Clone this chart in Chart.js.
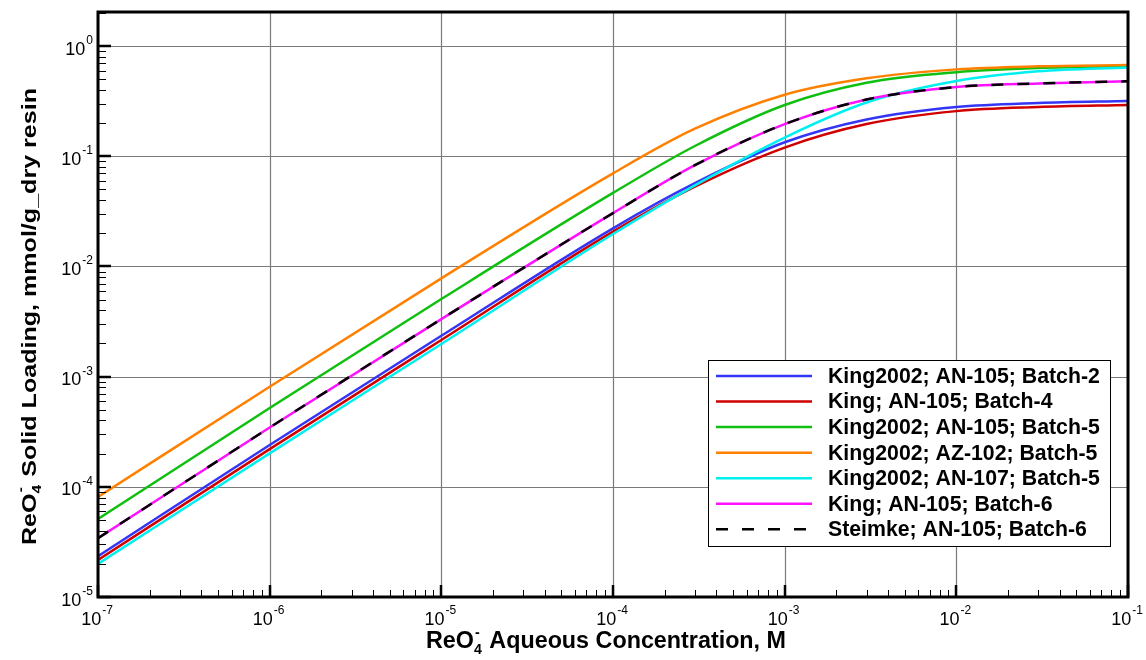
<!DOCTYPE html>
<html>
<head>
<meta charset="utf-8">
<script src="https://cdn.jsdelivr.net/npm/chart.js@4.4.0/dist/chart.umd.min.js"></script>
<style>
  html, body { margin: 0; padding: 0; background: #fff; }
</style>
</head>
<body>
<canvas id="isotherm" width="1146" height="660"></canvas>
<script>
// aqueous ReO4- concentration, M
const conc = [1e-7, 1e-6, 1e-5, 1e-4, 3e-4, 1e-3, 3e-3, 1e-2, 3e-2, 1e-1];

// solid loading, mmol/g dry resin
const king2002An105B2 = [2.35e-5, 2.4e-4, 2.35e-3, 0.0222, 0.057, 0.134, 0.216, 0.280, 0.305, 0.318];
const kingAn105B4     = [2.17e-5, 2.2e-4, 2.15e-3, 0.0207, 0.053, 0.120, 0.196, 0.257, 0.280, 0.292];
const king2002An105B5 = [5.1e-5, 5.2e-4, 5.06e-3, 0.0465, 0.124, 0.292, 0.465, 0.580, 0.633, 0.655];
const king2002Az102B5 = [8.1e-5, 8.1e-4, 7.8e-3, 0.070, 0.178, 0.362, 0.510, 0.615, 0.655, 0.673];
const king2002An107B5 = [2.0e-5, 2.01e-4, 1.98e-3, 0.0197, 0.0545, 0.148, 0.308, 0.482, 0.590, 0.640];
const kingAn105B6     = [3.42e-5, 3.45e-4, 3.33e-3, 0.0305, 0.083, 0.196, 0.328, 0.425, 0.458, 0.480];
const steimkeAn105B6  = [3.42e-5, 3.45e-4, 3.33e-3, 0.0305, 0.083, 0.196, 0.328, 0.425, 0.458, 0.480];

const seriesLabels = [
  'King2002; AN-105; Batch-2',
  'King; AN-105; Batch-4',
  'King2002; AN-105; Batch-5',
  'King2002; AZ-102; Batch-5',
  'King2002; AN-107; Batch-5',
  'King; AN-105; Batch-6',
  'Steimke; AN-105; Batch-6'
];
const seriesValues = [king2002An105B2, kingAn105B4, king2002An105B5, king2002Az102B5,
                      king2002An107B5, kingAn105B6, steimkeAn105B6];
const seriesColors = ['#3535f5', '#d00000', '#10c010', '#ff8000', '#00f0f0', '#ff10ff', '#000000'];

// decade tick exponents
const xTickExp = [-7, -6, -5, -4, -3, -2, -1];
const yTickExp = [-5, -4, -3, -2, -1, 0];

const FONT = '"Liberation Sans", Arial, Helvetica, sans-serif';

const datasets = seriesLabels.map((label, i) => ({
  label: label,
  data: conc.map((c, j) => ({ x: c, y: seriesValues[i][j] })),
  borderColor: seriesColors[i],
  borderWidth: 2.5,
  borderDash: i === 6 ? [12, 14] : [],
  pointRadius: 0,
  fill: false,
  cubicInterpolationMode: 'monotone',
  order: seriesLabels.length - 1 - i
}));

function line(ctx, x1, y1, x2, y2) {
  ctx.beginPath();
  ctx.moveTo(x1, y1);
  ctx.lineTo(x2, y2);
  ctx.stroke();
}

// "10" with a raised exponent
function powLabel(ctx, exp, x, y, anchor) {
  const base = '10', sup = String(exp);
  ctx.font = '18px ' + FONT;
  const wb = ctx.measureText(base).width;
  ctx.font = '12px ' + FONT;
  const ws = ctx.measureText(sup).width;
  const total = wb + 1 + ws;
  const x0 = anchor === 'right' ? x - total : x - total / 2;
  ctx.textAlign = 'left';
  ctx.textBaseline = 'alphabetic';
  ctx.font = '18px ' + FONT;
  ctx.fillText(base, x0, y + 6.5);
  ctx.font = '12px ' + FONT;
  ctx.fillText(sup, x0 + wb + 1, y - 4);
}

// axis title starting with ReO4- (sub 4, sup minus)
function reoTitle(ctx, cx, cy, angle, rest, targetW, size) {
  const big = 'bold ' + size + 'px ' + FONT;
  const small = 'bold ' + Math.round(size * 0.62) + 'px ' + FONT;
  ctx.font = big;
  const w1 = ctx.measureText('ReO').width;
  const w3 = ctx.measureText(rest).width;
  ctx.font = small;
  const w2 = Math.max(ctx.measureText('4').width, ctx.measureText('-').width) + 1;
  const total = w1 + w2 + w3;
  ctx.save();
  ctx.translate(cx, cy);
  ctx.rotate(angle);
  ctx.scale(targetW / total, 1);
  ctx.fillStyle = '#000';
  ctx.textAlign = 'left';
  ctx.textBaseline = 'alphabetic';
  let x = -total / 2;
  const b = size * 0.36;
  ctx.font = big;
  ctx.fillText('ReO', x, b);
  x += w1;
  ctx.font = small;
  ctx.fillText('4', x, b + size * 0.25);
  ctx.fillText('-', x + 1, b - size * 0.5);
  x += w2;
  ctx.font = big;
  ctx.fillText(rest, x, b);
  ctx.restore();
}

const plotDecor = {
  id: 'plotDecor',
  beforeDraw(chart) {
    const ctx = chart.ctx;
    ctx.save();
    ctx.fillStyle = '#fff';
    ctx.fillRect(0, 0, chart.width, chart.height);
    ctx.restore();
  },
  beforeDatasetsDraw(chart) {
    const { ctx, chartArea: a, scales: { x, y } } = chart;
    ctx.save();
    ctx.strokeStyle = '#7a7a7a';
    ctx.lineWidth = 1.2;
    xTickExp.forEach(e => {
      const px = Math.round(x.getPixelForValue(Math.pow(10, e))) + 0.5;
      line(ctx, px, a.top, px, a.bottom);
    });
    yTickExp.forEach(e => {
      const py = Math.round(y.getPixelForValue(Math.pow(10, e))) + 0.5;
      line(ctx, a.left, py, a.right, py);
    });
    ctx.restore();
  },
  afterDatasetsDraw(chart) {
    const { ctx, chartArea: a, scales: { x, y } } = chart;
    ctx.save();
    ctx.strokeStyle = '#000';
    ctx.fillStyle = '#000';

    // minor ticks inside the left and bottom axes
    ctx.lineWidth = 1;
    xTickExp.slice(0, -1).forEach(e => {
      for (let k = 2; k <= 9; k++) {
        const px = Math.round(x.getPixelForValue(k * Math.pow(10, e))) + 0.5;
        line(ctx, px, a.bottom, px, a.bottom - 7);
      }
    });
    yTickExp.forEach(e => {
      for (let k = 2; k <= 9; k++) {
        const v = k * Math.pow(10, e);
        if (v > y.max) break;
        const py = Math.round(y.getPixelForValue(v)) + 0.5;
        line(ctx, a.left, py, a.left + 8, py);
      }
    });
    // major ticks
    ctx.lineWidth = 2.5;
    xTickExp.forEach(e => {
      const px = Math.round(x.getPixelForValue(Math.pow(10, e)));
      line(ctx, px, a.bottom, px, a.bottom - 12);
    });
    yTickExp.forEach(e => {
      const py = Math.round(y.getPixelForValue(Math.pow(10, e)));
      line(ctx, a.left, py, a.left + 13, py);
    });

    // frame
    ctx.lineWidth = 3;
    ctx.strokeRect(a.left, a.top, a.right - a.left, a.bottom - a.top);

    // tick labels
    xTickExp.forEach(e => powLabel(ctx, e, x.getPixelForValue(Math.pow(10, e)) - 1, a.bottom + 21, 'center'));
    yTickExp.forEach(e => powLabel(ctx, e, a.left - 5, y.getPixelForValue(Math.pow(10, e)) + 2, 'right'));

    // axis titles
    reoTitle(ctx, (a.left + a.right) / 2 - 7, a.bottom + 43, 0, ' Aqueous Concentration, M', 360, 23);
    reoTitle(ctx, 28, (a.top + a.bottom) / 2 + 12, -Math.PI / 2, ' Solid Loading, mmol/g_dry resin', 457, 21);

    // legend box
    const lx = a.right - 420, ly = a.bottom - 237, lw = 402, lh = 186;
    ctx.fillStyle = '#fff';
    ctx.fillRect(lx, ly, lw, lh);
    ctx.lineWidth = 1;
    ctx.strokeStyle = '#000';
    ctx.strokeRect(lx + 0.5, ly + 0.5, lw, lh);
    ctx.font = 'bold 18px ' + FONT;
    const fit = 272 / ctx.measureText(seriesLabels[0]).width;
    ctx.font = 'bold ' + (18 * fit).toFixed(2) + 'px ' + FONT;
    ctx.textAlign = 'left';
    ctx.textBaseline = 'middle';
    chart.data.datasets.forEach((ds, i) => {
      const ry = ly + 16 + i * 25.55;
      ctx.strokeStyle = ds.borderColor;
      ctx.lineWidth = 2.5;
      ctx.setLineDash(ds.borderDash);
      line(ctx, lx + 8, ry, lx + 104, ry);
      ctx.setLineDash([]);
      ctx.fillStyle = '#000';
      ctx.fillText(ds.label, lx + 120, ry + 1);
    });
    ctx.restore();
  }
};

new Chart(document.getElementById('isotherm'), {
  type: 'line',
  data: { datasets: datasets },
  options: {
    responsive: false,
    animation: false,
    layout: { padding: { left: 98, right: 18, top: 12, bottom: 63 } },
    plugins: { legend: { display: false }, tooltip: { enabled: false } },
    scales: {
      x: { type: 'logarithmic', min: 1e-7, max: 1e-1, bounds: 'data', display: false },
      y: { type: 'logarithmic', min: 1e-5, max: 2.04, bounds: 'data', display: false }
    }
  },
  plugins: [plotDecor]
});
</script>
</body>
</html>
